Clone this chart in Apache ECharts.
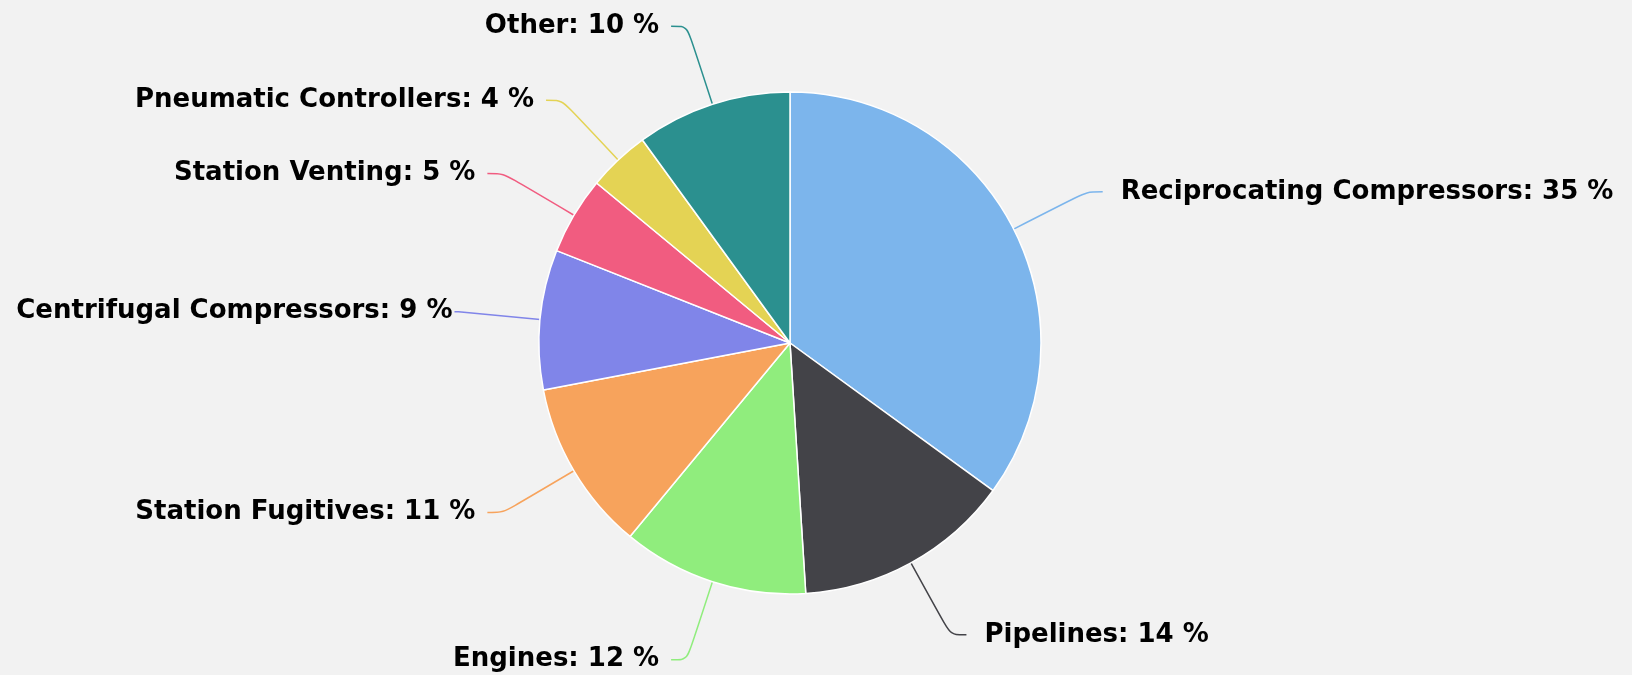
<!DOCTYPE html>
<html>
<head>
<meta charset="utf-8">
<script src="https://cdn.jsdelivr.net/npm/echarts@6/dist/echarts.min.js"></script>
<style>
  html, body { margin: 0; padding: 0; background: #f2f2f2; }
  #chart { width: 1632px; height: 675px; }
</style>
</head>
<body>
<div id="chart"></div>
<script>
const categories = ['Reciprocating Compressors', 'Pipelines', 'Engines', 'Station Fugitives',
  'Centrifugal Compressors', 'Station Venting', 'Pneumatic Controllers', 'Other']
const shares = [35, 14, 12, 11, 9, 5, 4, 10]
const colors = ['#7cb5ec', '#434348', '#90ed7d', '#f7a35c', '#8085e9', '#f15c80', '#e4d354', '#2b908f']

// the left-most label sits right on its connector, as in the original
const tightLabel = 'Centrifugal Compressors'

const chart = echarts.init(document.getElementById('chart'))
chart.setOption({
  backgroundColor: '#f2f2f2',
  animation: false,
  series: [{
    type: 'pie',
    center: [790, 343],
    radius: 251,
    startAngle: 90,
    clockwise: true,
    data: categories.map((name, i) => {
      const item = { name: name, value: shares[i], itemStyle: { color: colors[i] } }
      if (name === tightLabel) {
        item.label = { distanceToLabelLine: 2 }
        item.labelLine = { length2: 4 }
      } else if (i < 2) {
        item.label = { distanceToLabelLine: 18 }
      }
      return item
    }),
    itemStyle: { borderColor: '#ffffff', borderWidth: 1.5 },
    label: {
      formatter: '{b}: {c} %',
      fontFamily: 'DejaVu Sans',
      fontWeight: 'bold',
      fontSize: 26,
      color: '#000000',
      overflow: 'none',
      distanceToLabelLine: 12
    },
    labelLine: {
      show: true,
      length: 82,
      length2: 16,
      smooth: 0.3,
      lineStyle: { width: 1.5 }
    },
    emphasis: { disabled: true }
  }]
})
</script>
</body>
</html>
